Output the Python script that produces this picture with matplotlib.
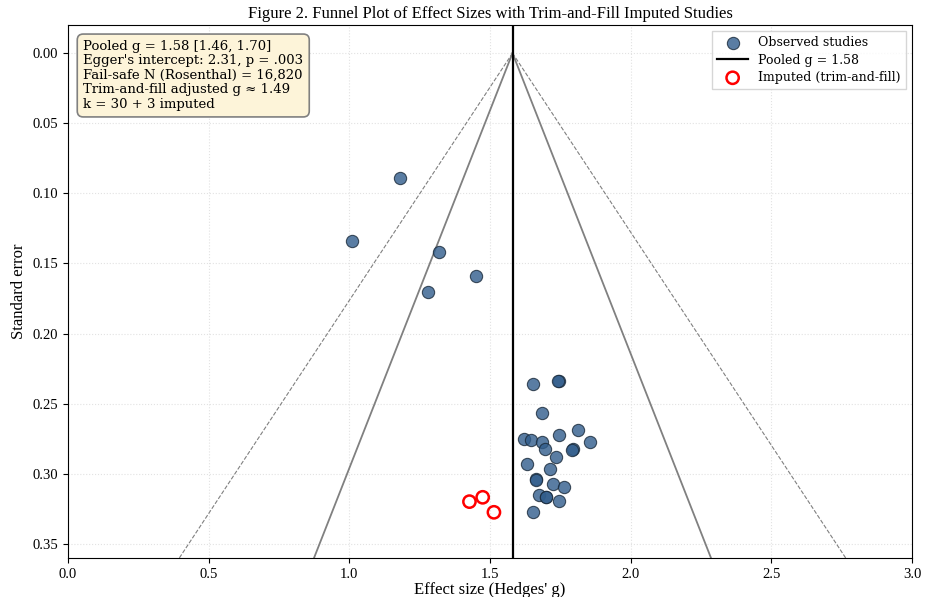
import matplotlib
matplotlib.use("Agg")
import matplotlib.pyplot as plt
import numpy as np

# Observed studies (Hedges' g, standard error)
obs_g = [1.18, 1.01, 1.32, 1.45, 1.28,
         1.654, 1.744, 1.742, 1.684, 1.814, 1.744, 1.621, 1.645, 1.685, 1.854,
         1.794, 1.792, 1.694, 1.735, 1.633, 1.715, 1.664, 1.662, 1.723, 1.763,
         1.675, 1.698, 1.700, 1.744, 1.652]
obs_se = [0.089, 0.134, 0.142, 0.159, 0.170,
          0.236, 0.2336, 0.2340, 0.2564, 0.2687, 0.2725, 0.2751, 0.2758, 0.2775, 0.2770,
          0.2825, 0.2828, 0.2820, 0.2882, 0.2927, 0.2963, 0.3039, 0.3042, 0.3070, 0.3091,
          0.3153, 0.3165, 0.3168, 0.3191, 0.3274]

# Imputed studies (trim-and-fill)
imp_g = [1.427, 1.474, 1.514]
imp_se = [0.3198, 0.3167, 0.3274]

pooled_g = 1.58
se_max = 0.36

box_text = ("Pooled g = 1.58 [1.46, 1.70]\n"
            "Egger's intercept: 2.31, p = .003\n"
            "Fail-safe N (Rosenthal) = 16,820\n"
            "Trim-and-fill adjusted g \u2248 1.49\n"
            "k = 30 + 3 imputed")

plt.rcParams['font.family'] = ['Liberation Serif', 'DejaVu Serif']

fig = plt.figure(figsize=(9.29, 5.97), dpi=100)
ax = fig.add_axes([0.0732, 0.0653, 0.9085, 0.8927])

se_line = np.array([0.0, se_max])
ax.plot(pooled_g - 1.96 * se_line, se_line, color='grey', lw=1.3, zorder=1)
ax.plot(pooled_g + 1.96 * se_line, se_line, color='grey', lw=1.3, zorder=1)
ax.plot(pooled_g - 3.29 * se_line, se_line, color='grey', lw=0.8, ls='--', zorder=1)
ax.plot(pooled_g + 3.29 * se_line, se_line, color='grey', lw=0.8, ls='--', zorder=1)

ax.scatter(obs_g, obs_se, s=78, color='#315d8c', alpha=0.8, edgecolor='#1a2a3a',
           linewidth=0.8, zorder=3, label='Observed studies')
ax.axvline(pooled_g, color='black', lw=1.6, zorder=2, label='Pooled g = 1.58')
ax.scatter(imp_g, imp_se, s=78, facecolor='none', edgecolor='red', linewidth=1.8,
           zorder=4, label='Imputed (trim-and-fill)')

ax.set_xlim(0, 3.0)
ax.set_ylim(se_max, -0.02)
ax.set_xticks([0.0, 0.5, 1.0, 1.5, 2.0, 2.5, 3.0])
ax.set_yticks([0.0, 0.05, 0.10, 0.15, 0.20, 0.25, 0.30, 0.35])
ax.set_yticklabels(['0.00', '0.05', '0.10', '0.15', '0.20', '0.25', '0.30', '0.35'])
ax.tick_params(labelsize=10.5)
ax.grid(True, ls=':', color='#e2e2e2', lw=0.8)
ax.set_axisbelow(True)

ax.set_xlabel("Effect size (Hedges' g)", fontsize=12, labelpad=1)
ax.set_ylabel("Standard error", fontsize=12, labelpad=4)
ax.set_title("Figure 2. Funnel Plot of Effect Sizes with Trim-and-Fill Imputed Studies",
             fontsize=12, pad=5)

ax.text(0.018, 0.972, box_text, transform=ax.transAxes, va='top', ha='left',
        fontsize=9.5, family=['DejaVu Serif'], linespacing=1.15,
        bbox=dict(boxstyle='round,pad=0.45', facecolor='#fdf4d9', edgecolor='grey', lw=1.2))

leg = ax.legend(loc='upper right', prop={'family': 'DejaVu Serif', 'size': 9},
                frameon=True, fancybox=False, edgecolor='#cccccc', borderaxespad=0.5,
                labelspacing=0.35, handlelength=2.5)

fig.savefig("out.png", dpi=100)
